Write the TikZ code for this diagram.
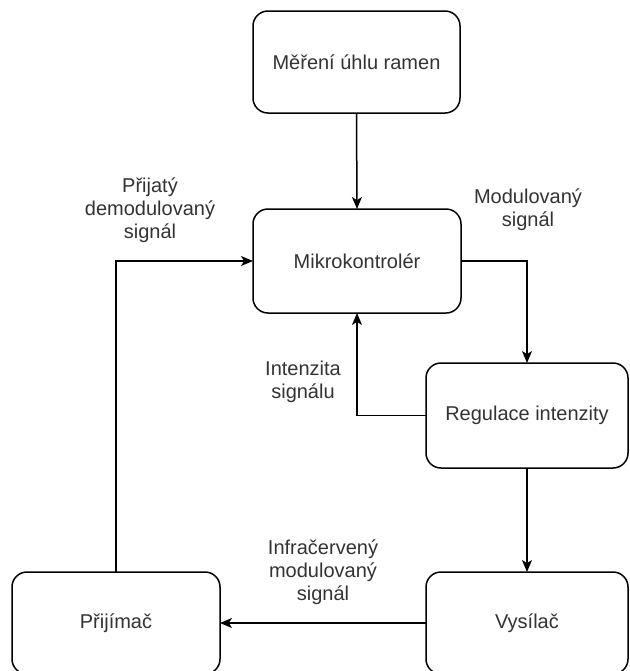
\documentclass[tikz,border=0pt]{standalone}
\usepackage{fontspec}
\setmainfont{Liberation Sans}
\usetikzlibrary{arrows.meta}
\definecolor{txt}{HTML}{333333}
\tikzset{
  blok/.style={draw=black, line width=0.75pt, rounded corners=7.5pt, fill=white,
    inner sep=0pt, outer sep=0pt, text=txt, font=\fontsize{10}{11.5}\selectfont, align=center},
  popis/.style={text=txt, font=\fontsize{10}{11.5}\selectfont, align=center, inner sep=0pt},
  spoj/.style={draw=black, line width=0.75pt, -{Stealth[length=6pt,width=5pt,inset=1.6pt]}}
}
\begin{document}
\begin{tikzpicture}[x=0.5pt,y=-0.5pt]
\clip (0,0) rectangle (630,671);
\fill[white] (0,0) rectangle (630,671);
\node[blok, minimum width=103.5pt, minimum height=51pt] (mer) at (356.5,62) {Měření úhlu ramen};
\node[blok, minimum width=104pt, minimum height=52pt] (mik) at (357,261) {Mikrokontrolér};
\node[blok, minimum width=101pt, minimum height=52.5pt] (reg) at (527,415.5) {Regulace intenzity};
\node[blok, minimum width=101pt, minimum height=51pt] (vys) at (527,623) {Vysílač};
\node[blok, minimum width=104pt, minimum height=51pt] (pri) at (116,623) {Přijímač};

\draw[spoj] (mer.south) -- (mik.north);
\draw[spoj] (pri.north) |- (mik.west);
\draw[spoj] (mik.east) -| (reg.north);
\draw[spoj] (reg.west) -| (mik.south);
\draw[spoj] (reg.south) -- (vys.north);
\draw[spoj] (vys.west) -- (pri.east);

\node[popis] (l1) at (150,210) {Přijatý\\demodulovaný\\signál};
\node[popis] (l2) at (528,210) {Modulovaný\\signál};
\node[popis] (l3) at (303,381.5) {Intenzita\\signálu};
\node[popis] (l4) at (323,572) {Infračervený\\modulovaný\\signál};
\end{tikzpicture}
\end{document}
